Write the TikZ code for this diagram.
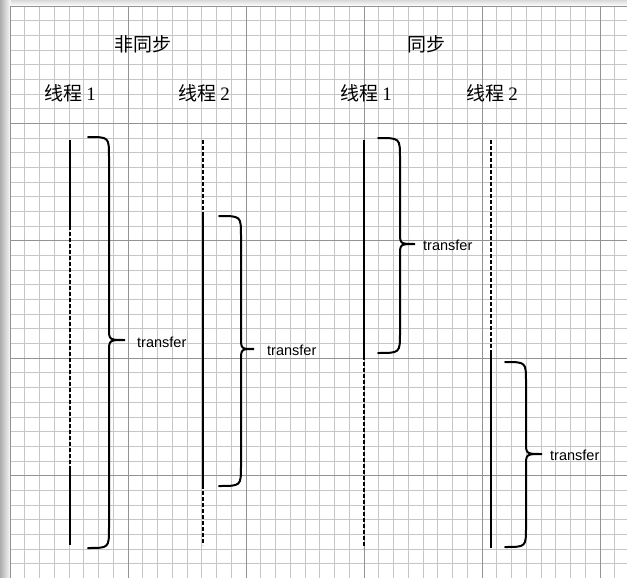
\documentclass[tikz,border=0pt]{standalone}
\usepackage{fontspec}
\setmainfont{Liberation Serif}
\setsansfont{Liberation Sans}
\newfontfamily\cjk{Noto Sans CJK SC}
\newcommand\drawcurly[6]{%
  \draw[bracestyle] (#1,#4) .. controls (#2,#4) .. (#2,{#4+20}) -- (#2,{#5-12})
    .. controls (#2,#5) .. (#3,#5) .. controls (#2,#5) .. (#2,{#5+12})
    -- (#2,{#6-20}) .. controls (#2,#6) .. (#1,#6);}
\begin{document}
\begin{tikzpicture}[x=1pt,y=-1pt,
  minorgrid/.style={draw=gray!45,line width=0.8pt},
  majorgrid/.style={draw=gray!85,line width=0.9pt},
  solidline/.style={draw=black,line width=2pt},
  dashline/.style={draw=black,line width=2pt,dash pattern=on 4pt off 2pt},
  bracestyle/.style={draw=black,line width=2pt,line cap=round},
  titletext/.style={font=\cjk\fontsize{19}{22}\selectfont,anchor=base,inner sep=0pt},
  labeltext/.style={font=\sffamily\fontsize{14.5}{17}\selectfont,anchor=base west,inner sep=0pt}]
\useasboundingbox (0,0) rectangle (627,578);
\fill[white] (0,0) rectangle (627,578);
% paper shadow
\shade[left color=gray!65,right color=white] (0,0) rectangle (11,578);
\shade[top color=gray!30,bottom color=white] (11,0) rectangle (627,6);
% grid
\foreach \i in {0,...,42} {\draw[minorgrid] ({10+14.75*\i},6) -- ({10+14.75*\i},578);}
\foreach \j in {0,...,39} {\draw[minorgrid] (10,{6+14.675*\j}) -- (627,{6+14.675*\j});}
\foreach \i in {0,...,5} {\draw[majorgrid] ({10+118*\i},6) -- ({10+118*\i},578);}
\foreach \j in {0,...,4} {\draw[majorgrid] (10,{6+117.4*\j}) -- (627,{6+117.4*\j});}
% titles
\node[titletext] (tasync) at (143,51.5) {非同步};
\node[titletext] (tsync) at (426,51.5) {同步};
\node[titletext] (h1) at (70,101) {线程 {\rmfamily 1}};
\node[titletext] (h2) at (204,101) {线程 {\rmfamily 2}};
\node[titletext] (h3) at (366,101) {线程 {\rmfamily 1}};
\node[titletext] (h4) at (492,101) {线程 {\rmfamily 2}};
% thread lines
\coordinate (a0) at (70,140); \coordinate (a1) at (70,226);
\coordinate (a2) at (70,466); \coordinate (a3) at (70,545);
\draw[solidline] (a0) -- (a1); \draw[dashline] (a1) -- (a2); \draw[solidline] (a2) -- (a3);
\coordinate (b0) at (203,140); \coordinate (b1) at (203,215);
\coordinate (b2) at (203,485); \coordinate (b3) at (203,545);
\draw[dashline] (b0) -- (b1); \draw[solidline] (b1) -- (b2); \draw[dashline] (b2) -- (b3);
\coordinate (c0) at (364,140); \coordinate (c1) at (364,356); \coordinate (c2) at (364,548);
\draw[solidline] (c0) -- (c1); \draw[dashline] (c1) -- (c2);
\coordinate (d0) at (491,140); \coordinate (d1) at (491,353); \coordinate (d2) at (491,548);
\draw[dashline] (d0) -- (d1); \draw[solidline] (d1) -- (d2);
% braces
\drawcurly{88}{109}{125}{137}{340}{548}
\drawcurly{219}{241}{254}{216}{349}{486}
\drawcurly{378}{400}{415}{138}{244}{353}
\drawcurly{505}{526}{542}{362}{454}{547}
% labels
\node[labeltext] (l1) at (137,347) {transfer};
\node[labeltext] (l2) at (267,355) {transfer};
\node[labeltext] (l3) at (423,250) {transfer};
\node[labeltext] (l4) at (550,460) {transfer};
\end{tikzpicture}
\end{document}
